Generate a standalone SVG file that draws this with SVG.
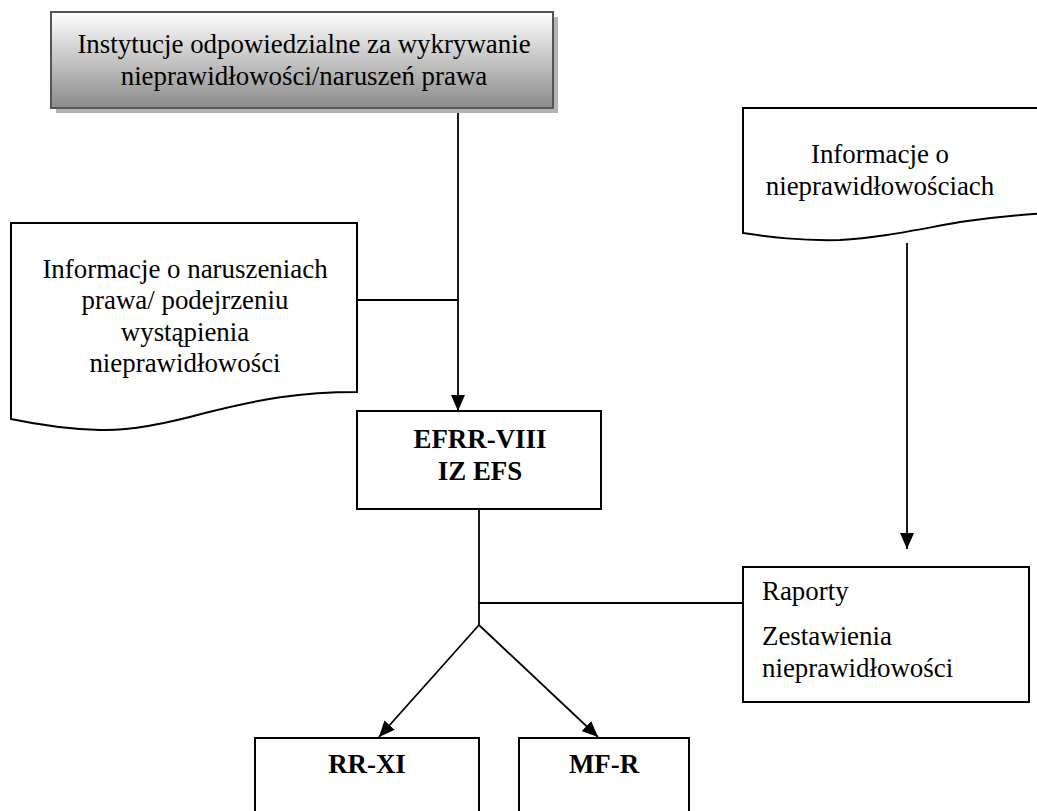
<svg xmlns="http://www.w3.org/2000/svg" width="1037" height="811" viewBox="0 0 1037 811">
<defs>
<linearGradient id="g" x1="0" y1="0" x2="0" y2="1">
<stop offset="0" stop-color="#ffffff"/>
<stop offset="1" stop-color="#8a8a8a"/>
</linearGradient>
<marker id="arr" markerWidth="16" markerHeight="14" refX="16" refY="7" orient="auto" markerUnits="userSpaceOnUse">
<path d="M0,0 L16,7 L0,14 Z" fill="#000"/>
</marker>
</defs>
<style>
text{font-family:"Liberation Serif","Times New Roman",serif;font-size:26.9px;fill:#000}
.b{font-weight:bold}
.c{text-anchor:middle}
.box{fill:#fff;stroke:#000;stroke-width:2}
.ln{fill:none;stroke:#000;stroke-width:1.8}
</style>
<rect width="1037" height="811" fill="#fff"/>
<g id="connectors">
<line class="ln" x1="458" y1="108" x2="458" y2="411" marker-end="url(#arr)"/>
<line class="ln" x1="357" y1="300" x2="458" y2="300"/>
<line class="ln" x1="907" y1="243" x2="907" y2="549" marker-end="url(#arr)"/>
<line class="ln" x1="479" y1="509" x2="479" y2="625"/>
<line class="ln" x1="479" y1="603" x2="743" y2="603"/>
<line class="ln" x1="479" y1="625" x2="379" y2="737" marker-end="url(#arr)"/>
<line class="ln" x1="479" y1="625" x2="598" y2="737" marker-end="url(#arr)"/>
</g>
<g id="n-instytucje">
<rect x="56" y="17" width="502" height="96" fill="#b3b3b3"/>
<rect x="51" y="12" width="502" height="96" fill="url(#g)" stroke="#555" stroke-width="2"/>
<text class="c" x="304" y="53">Instytucje odpowiedzialne za wykrywanie</text>
<text class="c" x="304" y="85">nieprawidłowości/naruszeń prawa</text>
</g>
<g id="n-info-nieprawidlowosci">
<path class="box" d="M743,108 H1095 V212 C1040,212 1000,216 960,222 C920,229 880,238 840,240 C800,241 770,237 743,233 Z"/>
<text class="c" x="880" y="163">Informacje o</text>
<text class="c" x="880" y="195">nieprawidłowościach</text>
</g>
<g id="n-info-naruszenia">
<path class="box" d="M11,223 H357 V392 C300,392 260,399 205,413 C165,424 130,431 100,430 C60,429 30,423 11,419 Z"/>
<text class="c" x="185" y="278">Informacje o naruszeniach</text>
<text class="c" x="185" y="309">prawa/ podejrzeniu</text>
<text class="c" x="185" y="341">wystąpienia</text>
<text class="c" x="185" y="372">nieprawidłowości</text>
</g>
<g id="n-efrr">
<rect class="box" x="357" y="411" width="244" height="98"/>
<text class="c b" x="480" y="448">EFRR-VIII</text>
<text class="c b" x="480" y="480">IZ EFS</text>
</g>
<g id="n-raporty">
<rect class="box" x="743" y="567" width="286" height="135"/>
<text x="762" y="600">Raporty</text>
<text x="762" y="645">Zestawienia</text>
<text x="762" y="677">nieprawidłowości</text>
</g>
<g id="n-rrxi">
<rect class="box" x="255" y="738" width="224" height="90"/>
<text class="c b" x="367" y="773">RR-XI</text>
</g>
<g id="n-mfr">
<rect class="box" x="519" y="738" width="170" height="90"/>
<text class="c b" x="604" y="773">MF-R</text>
</g>
</svg>
